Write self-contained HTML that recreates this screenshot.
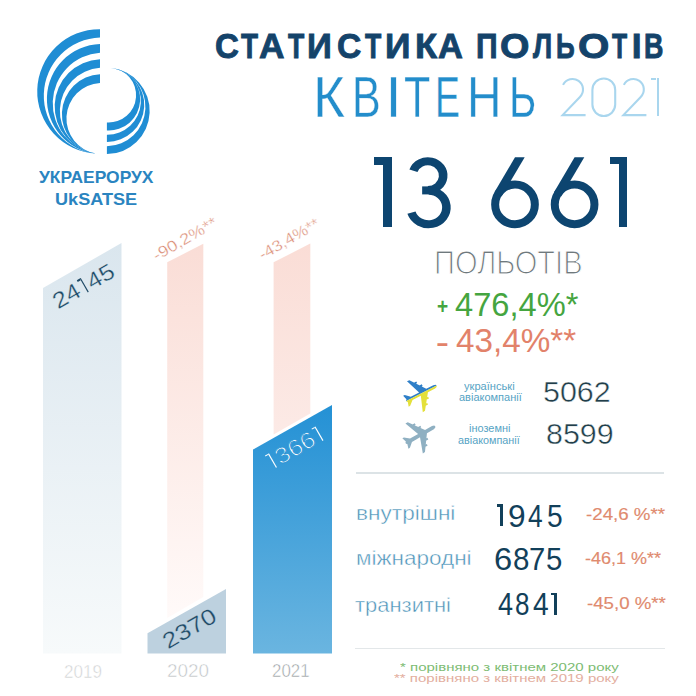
<!DOCTYPE html>
<html><head><meta charset="utf-8">
<style>
html,body{margin:0;padding:0;background:#fff;}
body{width:696px;height:696px;position:relative;overflow:hidden;font-family:"Liberation Sans",sans-serif;}
.t{position:absolute;white-space:nowrap;line-height:1;transform-origin:0 0;}
</style></head><body>

<!-- logo -->
<svg id="logo" style="position:absolute;left:0;top:0" width="200" height="160" viewBox="0 0 200 160">
<g fill="#1F8DD4">
<path d="M100,29.2 A62.25,62.25 0 0 0 96,153.6 A58.17,58.17 0 0 1 100,37.6 Z"/>
<path d="M100,44.1 A54.92,54.92 0 0 0 96,153.6 A50.79,50.79 0 0 1 100,52.7 Z"/>
<path d="M100,59.2 A47.42,47.42 0 0 0 96,153.6 A43.25,43.25 0 0 1 100,67.8 Z"/>
<path d="M100,74.3 A39.88,39.88 0 0 0 96,153.6 A35.64,35.64 0 0 1 100,82.9 Z"/>
<path d="M110.8,67.9 A31.31,31.31 0 0 1 106.9,130.4 L106.9,122.5 A27.37,27.37 0 0 0 110.8,67.9 Z"/>
<path d="M110.8,67.9 A37.09,37.09 0 0 1 106.9,141.9 L106.9,134.7 A33.49,33.49 0 0 0 110.8,67.9 Z"/>
<path d="M110.8,67.9 A43.21,43.21 0 0 1 106.9,154.1 L106.9,146.2 A39.29,39.29 0 0 0 110.8,67.9 Z"/>
</g>
</svg>
<div class="t" id="lg1" style="left:38.7px;top:168.91px;font-size:17.28px;font-weight:bold;color:#2A84C0;transform:scaleX(1.0085);">УКРАЕРОРУХ</div>
<div class="t" id="lg2" style="left:54.77px;top:192.08px;font-size:15.86px;font-weight:bold;color:#2A84C0;transform:scaleX(1.1419);">UkSATSE</div>

<!-- title -->
<div class="t" id="t0" style="left:214.59px;top:29.3px;font-size:35.6px;font-weight:bold;color:#14436A;-webkit-text-stroke:0.9px #14436A;transform:scaleX(0.9294);">С</div>
<div class="t" id="t1" style="left:240.93px;top:29.31px;font-size:35.6px;font-weight:bold;color:#14436A;-webkit-text-stroke:0.9px #14436A;transform:scaleX(0.7833);">Т</div>
<div class="t" id="t2" style="left:259.13px;top:29.01px;font-size:35.6px;font-weight:bold;color:#14436A;-webkit-text-stroke:0.9px #14436A;transform:scaleX(0.9925);">А</div>
<div class="t" id="t3" style="left:287.94px;top:29.01px;font-size:35.6px;font-weight:bold;color:#14436A;-webkit-text-stroke:0.9px #14436A;transform:scaleX(0.7497);">Т</div>
<div class="t" id="t4" style="left:306.86px;top:29.01px;font-size:35.6px;font-weight:bold;color:#14436A;-webkit-text-stroke:0.9px #14436A;transform:scaleX(0.9712);">И</div>
<div class="t" id="t5" style="left:337.07px;top:29.3px;font-size:35.6px;font-weight:bold;color:#14436A;-webkit-text-stroke:0.9px #14436A;transform:scaleX(0.9442);">С</div>
<div class="t" id="t6" style="left:364.94px;top:29.01px;font-size:35.6px;font-weight:bold;color:#14436A;-webkit-text-stroke:0.9px #14436A;transform:scaleX(0.7497);">Т</div>
<div class="t" id="t7" style="left:384.96px;top:29.01px;font-size:35.6px;font-weight:bold;color:#14436A;-webkit-text-stroke:0.9px #14436A;transform:scaleX(0.996);">И</div>
<div class="t" id="t8" style="left:414.72px;top:29.01px;font-size:35.6px;font-weight:bold;color:#14436A;-webkit-text-stroke:0.9px #14436A;transform:scaleX(1.0174);">К</div>
<div class="t" id="t9" style="left:437.81px;top:29.01px;font-size:35.6px;font-weight:bold;color:#14436A;-webkit-text-stroke:0.9px #14436A;transform:scaleX(0.9692);">А</div>
<div class="t" id="t10" style="left:476.3px;top:29.01px;font-size:35.6px;font-weight:bold;color:#14436A;-webkit-text-stroke:0.9px #14436A;transform:scaleX(0.8447);">П</div>
<div class="t" id="t11" style="left:499.82px;top:29.3px;font-size:35.6px;font-weight:bold;color:#14436A;-webkit-text-stroke:0.9px #14436A;transform:scaleX(1.0632);">О</div>
<div class="t" id="t12" style="left:532.55px;top:29.01px;font-size:35.6px;font-weight:bold;color:#14436A;-webkit-text-stroke:0.9px #14436A;transform:scaleX(0.769);">Л</div>
<div class="t" id="t13" style="left:556.48px;top:29.01px;font-size:35.6px;font-weight:bold;color:#14436A;-webkit-text-stroke:0.9px #14436A;transform:scaleX(0.7311);">Ь</div>
<div class="t" id="t14" style="left:578.07px;top:29.3px;font-size:35.6px;font-weight:bold;color:#14436A;-webkit-text-stroke:0.9px #14436A;transform:scaleX(1.1325);">О</div>
<div class="t" id="t15" style="left:612.31px;top:29.01px;font-size:35.6px;font-weight:bold;color:#14436A;-webkit-text-stroke:0.9px #14436A;transform:scaleX(0.6963);">Т</div>
<div class="t" id="t16" style="left:631.74px;top:29.01px;font-size:35.6px;font-weight:bold;color:#14436A;-webkit-text-stroke:0.9px #14436A;transform:scaleX(1);">І</div>
<div class="t" id="t17" style="left:644.28px;top:29.01px;font-size:35.6px;font-weight:bold;color:#14436A;-webkit-text-stroke:0.9px #14436A;transform:scaleX(0.7562);">В</div>
<div class="t" id="m0" style="left:312.76px;top:69.31px;font-size:57.8px;color:#238DCB;-webkit-text-stroke:0.4px #fff;transform:scaleX(0.9484);">К</div>
<div class="t" id="m1" style="left:351.83px;top:69.31px;font-size:57.8px;color:#238DCB;-webkit-text-stroke:0.4px #fff;transform:scaleX(0.7454);">В</div>
<div class="t" id="m2" style="left:385.45px;top:69.31px;font-size:57.8px;color:#238DCB;-webkit-text-stroke:0.4px #fff;transform:scaleX(1);">І</div>
<div class="t" id="m3" style="left:403.61px;top:69.31px;font-size:57.8px;color:#238DCB;-webkit-text-stroke:0.4px #fff;transform:scaleX(0.7448);">Т</div>
<div class="t" id="m4" style="left:434.72px;top:69.31px;font-size:57.8px;color:#238DCB;-webkit-text-stroke:0.4px #fff;transform:scaleX(0.6463);">Е</div>
<div class="t" id="m5" style="left:466.65px;top:68.61px;font-size:57.8px;color:#238DCB;-webkit-text-stroke:0.4px #fff;transform:scaleX(0.8258);">Н</div>
<div class="t" id="m6" style="left:508.68px;top:69.31px;font-size:57.8px;color:#238DCB;-webkit-text-stroke:0.4px #fff;transform:scaleX(0.7205);">Ь</div>
<svg id="yr0" style="position:absolute;left:0;top:0" width="696" height="200" viewBox="0 0 696 200"><g fill="none" stroke="#A9D6EE" stroke-width="2.1" stroke-linejoin="miter"><path d="M563.06,84.90 A10.5,10.5 0 1 1 579.92,96.92 L562.60,115.1 L585.60,115.1"/><path d="M623.86,84.90 A10.5,10.5 0 1 1 640.72,96.92 L623.40,115.1 L646.40,115.1"/><rect x="592.4" y="78.5" width="22.8" height="37.5" rx="11.4" ry="11.4"/></g></svg>
<div id="yr3" style="position:absolute;left:0;top:0;"><div style="position:absolute;left:656.5px;top:77.9px;width:2.30px;height:38.60px;background:#A9D6EE;"></div><div style="position:absolute;left:650.7px;top:77.9px;width:5.60px;height:2.20px;background:#A9D6EE;"></div></div>

<!-- big number -->
<div id="bg0" style="position:absolute;left:0;top:0;"><div style="position:absolute;left:383.3px;top:157.3px;width:8.60px;height:69.90px;background:#0D4570;"></div><div style="position:absolute;left:374.2px;top:157.3px;width:9.10px;height:7.50px;background:#0D4570;"></div></div>
<svg id="bg1" style="position:absolute;left:0;top:0" width="696" height="300" viewBox="0 0 696 300"><g fill="none" stroke="#0D4570" stroke-width="8" transform="translate(450.5,0) scale(1.07,1) translate(-450.5,0)"><path d="M415.86,170.75 A14.35,14.35 0 1 1 429.35,190"/><path d="M424,190.4 L430,190.4"/><path d="M429.95,190.7 A16.75,16.75 0 1 1 414.02,212.63"/></g></svg>
<svg id="bg2" style="position:absolute;left:0;top:0" width="696" height="300" viewBox="0 0 696 300"><circle cx="515.00" cy="204.4" r="19.85" fill="none" stroke="#0D4570" stroke-width="8"/><polygon points="515.00,157.3 524.70,157.3 501.55,196.47 494.40,192.2" fill="#0D4570"/></svg>
<svg id="bg3" style="position:absolute;left:0;top:0" width="696" height="300" viewBox="0 0 696 300"><circle cx="574.60" cy="204.4" r="19.85" fill="none" stroke="#0D4570" stroke-width="8"/><polygon points="574.60,157.3 584.30,157.3 561.15,196.47 554.00,192.2" fill="#0D4570"/></svg>
<div id="bg4" style="position:absolute;left:0;top:0;"><div style="position:absolute;left:618.9px;top:156.9px;width:8.30px;height:69.90px;background:#0D4570;"></div><div style="position:absolute;left:609.8px;top:156.9px;width:9.10px;height:6.90px;background:#0D4570;"></div></div>
<div class="t" id="flights" style="left:434.03px;top:246.8px;font-size:32.74px;color:#6F797D;-webkit-text-stroke:1.2px #fff;transform:scaleX(0.8884);">ПОЛЬОТІВ</div>
<div class="t" id="p1s" style="font-weight:bold;left:437.43px;top:295.5px;font-size:22px;color:#45A540;transform:scaleX(0.8667);">+</div>
<div class="t" id="pct1" style="left:455.31px;top:288px;font-size:33px;color:#45A540;transform:scaleX(0.9886);">476,4%*</div>
<div class="t" id="p2s" style="font-weight:bold;left:436.22px;top:331.82px;font-size:22px;color:#E2826A;transform:scaleX(1.7555);">-</div>
<div class="t" id="pct2" style="left:455.7px;top:323.55px;font-size:33px;color:#E2826A;transform:scaleX(1.0067);">43,4%**</div>

<!-- airlines -->
<svg id="planes" style="position:absolute;left:0;top:0" width="696" height="696" viewBox="0 0 696 696">
<defs>
<path id="pl" d="M14.50,0.00 L13.90,-1.20 L11.80,-1.90 L3.80,-1.90 L-7.30,-17.20 L-9.90,-17.40 L-4.20,-1.90 L-13.50,-1.90 L-18.20,-6.00 L-20.00,-6.10 L-18.60,-1.50 L-19.60,-0.50 L-19.60,0.00 L-19.60,0.50 L-18.60,1.50 L-20.00,6.10 L-18.20,6.00 L-13.50,1.90 L-4.20,1.90 L-9.90,17.40 L-7.30,17.20 L3.80,1.90 L11.80,1.90 L13.90,1.20 Z M1.90,-7.90 L-2.90,-7.90 L-2.90,-6.10 L1.90,-6.10 Z M1.90,6.10 L-2.90,6.10 L-2.90,7.90 L1.90,7.90 Z M-1.73,-12.90 L-6.53,-12.90 L-6.53,-11.10 L-1.73,-11.10 Z M-1.73,11.10 L-6.53,11.10 L-6.53,12.90 L-1.73,12.90 Z"/>
<clipPath id="topc"><rect x="-30" y="-30" width="60" height="30"/></clipPath>
<clipPath id="botc"><rect x="-30" y="0" width="60" height="30"/></clipPath>
</defs>
<g transform="translate(423.7,392.2) rotate(-27)">
<use href="#pl" fill="#2F7FC8" clip-path="url(#topc)"/>
<use href="#pl" fill="#E4E03A" clip-path="url(#botc)"/>
</g>
<g transform="translate(422.7,433.5) rotate(-30)">
<use href="#pl" fill="#8FB0C2"/>
</g>
</svg>
<div class="t" id="ua1" style="left:464.1px;top:381.63px;font-size:10.2px;color:#56A3C4;transform:scaleX(1.0899);">українські</div>
<div class="t" id="ua2" style="left:459.1px;top:393.35px;font-size:10.2px;color:#56A3C4;transform:scaleX(1.0782);">авіакомпанії</div>
<div class="t" id="fo1" style="left:469.31px;top:424.37px;font-size:10.2px;color:#56A3C4;transform:scaleX(1.0726);">іноземні</div>
<div class="t" id="fo2" style="left:457.8px;top:436.02px;font-size:10.2px;color:#56A3C4;transform:scaleX(1.0605);">авіакомпанії</div>
<div class="t" id="n5062" style="left:542.93px;top:377.61px;font-size:29px;color:#213E4A;-webkit-text-stroke:0.45px #fff;transform:scaleX(1.0487);">5062</div>
<div class="t" id="n8599" style="left:545.56px;top:420.42px;font-size:29px;color:#213E4A;-webkit-text-stroke:0.45px #fff;transform:scaleX(1.0479);">8599</div>

<div id="sep1" style="position:absolute;left:356px;top:472px;width:308px;height:1.5px;background:#DCE3E6;"></div>

<!-- table -->
<div class="t" id="r1l" style="left:355.76px;top:503.33px;font-size:20.8px;color:#4C93B8;-webkit-text-stroke:0.45px #fff;transform:scaleX(1.087);">внутрішні</div>
<div class="t" id="r2l" style="left:355.77px;top:547.93px;font-size:20.8px;color:#4C93B8;-webkit-text-stroke:0.45px #fff;transform:scaleX(1.0826);">міжнародні</div>
<div class="t" id="r3l" style="left:355.4px;top:594.88px;font-size:20.8px;color:#4C93B8;-webkit-text-stroke:0.45px #fff;transform:scaleX(1.0558);">транзитні</div>
<div id="r1n0" style="position:absolute;left:0;top:0;"><div style="position:absolute;left:500.1px;top:504.3px;width:2.70px;height:21.60px;background:#12405A;"></div><div style="position:absolute;left:496.8px;top:504.3px;width:3.30px;height:2.70px;background:#12405A;"></div></div>
<div class="t" id="r1n1" style="left:507.6px;top:499.53px;font-size:32px;color:#12405A;transform:scaleX(0.9892);">9</div>
<div class="t" id="r1n2" style="left:527.88px;top:499.53px;font-size:32px;color:#12405A;transform:scaleX(0.8223);">4</div>
<div class="t" id="r1n3" style="left:546.5px;top:499.53px;font-size:32px;color:#12405A;transform:scaleX(0.8809);">5</div>
<div class="t" id="r2n0" style="left:493.7px;top:542.71px;font-size:32px;color:#12405A;transform:scaleX(1.0223);">6</div>
<div class="t" id="r2n1" style="left:512.87px;top:542.71px;font-size:32px;color:#12405A;transform:scaleX(0.9229);">8</div>
<div class="t" id="r2n2" style="left:529.42px;top:542.71px;font-size:32px;color:#12405A;transform:scaleX(0.9128);">7</div>
<div class="t" id="r2n3" style="left:546.27px;top:542.71px;font-size:32px;color:#12405A;transform:scaleX(0.9182);">5</div>
<div class="t" id="r3n0" style="left:497.84px;top:588.02px;font-size:32px;color:#12405A;transform:scaleX(0.8461);">4</div>
<div class="t" id="r3n1" style="left:514.91px;top:588.02px;font-size:32px;color:#12405A;transform:scaleX(0.8125);">8</div>
<div class="t" id="r3n2" style="left:533px;top:588.02px;font-size:32px;color:#12405A;transform:scaleX(0.8789);">4</div>
<div id="r3n3" style="position:absolute;left:0;top:0;"><div style="position:absolute;left:554.0px;top:592.8px;width:2.70px;height:22.10px;background:#12405A;"></div><div style="position:absolute;left:550.7px;top:592.8px;width:3.30px;height:2.70px;background:#12405A;"></div></div>
<div class="t" id="r1p" style="left:586.2px;top:507.07px;font-size:15.9px;color:#E08A6E;-webkit-text-stroke:0.15px #E08A6E;transform:scaleX(1.1779);">-24,6 %**</div>
<div class="t" id="r2p" style="left:585.4px;top:551.07px;font-size:15.9px;color:#E08A6E;-webkit-text-stroke:0.15px #E08A6E;transform:scaleX(1.1326);">-46,1 %**</div>
<div class="t" id="r3p" style="left:587.4px;top:596.33px;font-size:15.9px;color:#E08A6E;-webkit-text-stroke:0.15px #E08A6E;transform:scaleX(1.1748);">-45,0 %**</div>

<div id="sep2" style="position:absolute;left:355px;top:647.5px;width:310px;height:1.5px;background:#E3E7E9;"></div>
<div class="t" id="fn1" style="left:399.5px;top:660.5px;font-size:11.6px;color:#7DBC73;transform:scaleX(1.2943);">* порівняно з квітнем 2020 року</div>
<div class="t" id="fn2" style="left:394px;top:671.71px;font-size:11.6px;color:#E3AE9E;transform:scaleX(1.2959);">** порівняно з квітнем 2019 року</div>

<!-- chart -->
<svg id="chart" style="position:absolute;left:0;top:0" width="696" height="696" viewBox="0 0 696 696">
<defs>
<linearGradient id="g19" x1="0" y1="0" x2="0" y2="1"><stop offset="0" stop-color="#DAE6EE"/><stop offset="1" stop-color="#F7FAFB"/></linearGradient>
<linearGradient id="gpk" x1="0" y1="0" x2="0" y2="1"><stop offset="0" stop-color="#FADDD6"/><stop offset="1" stop-color="#FFFAF9"/></linearGradient>
<linearGradient id="gpk2" x1="0" y1="0" x2="0" y2="1"><stop offset="0" stop-color="#FADDD6"/><stop offset="1" stop-color="#FCEAE6"/></linearGradient>
<linearGradient id="gbl" x1="0" y1="0" x2="0" y2="1"><stop offset="0" stop-color="#2491D5"/><stop offset="1" stop-color="#6AB5E0"/></linearGradient>
</defs>
<polygon points="43,288 121.5,243 121.5,653.5 43,653.5" fill="url(#g19)"/>
<polygon points="167.2,262.3 203.3,243.8 203.3,597 167.2,618" fill="url(#gpk)"/>
<polygon points="147.5,633.2 226,588.9 226,653.5 147.5,653.5" fill="#BDD1DF"/>
<polygon points="273.6,262.3 310.3,243.6 310.3,413.5 273.6,434.5" fill="url(#gpk2)"/>
<polygon points="253,449.6 332,405 332,653.5 253,653.5" fill="url(#gbl)"/>
</svg>
<div class="t" id="c1" style="left:49px;top:293.5px;font-size:22.3px;color:#1F4A66;-webkit-text-stroke:0.3px #DDE8EF;transform:rotate(-30deg) scaleX(1.1455);">24<span style="display:inline-block;position:relative;width:0.42em;height:0.709em;"><span style="position:absolute;left:0.22em;top:0;width:0.064em;height:100%;background:currentColor;"></span><span style="position:absolute;left:0.10em;top:0;width:0.12em;height:0.065em;background:currentColor;"></span></span>45</div>
<div class="t" id="c2" style="left:158.75px;top:633.5px;font-size:22.21px;color:#1F4A66;-webkit-text-stroke:0.3px #BDD1DF;transform:rotate(-30deg) scaleX(1.1792);">2370</div>
<div class="t" id="c3" style="left:262px;top:455px;font-size:22.5px;color:#fff;-webkit-text-stroke:0.9px #2C95D5;transform:rotate(-30deg) scaleX(1.1425);"><span style="display:inline-block;position:relative;width:0.42em;height:0.709em;"><span style="position:absolute;left:0.22em;top:0;width:0.052em;height:100%;background:currentColor;"></span><span style="position:absolute;left:0.10em;top:0;width:0.12em;height:0.055em;background:currentColor;"></span></span>366<span style="display:inline-block;position:relative;width:0.42em;height:0.709em;"><span style="position:absolute;left:0.22em;top:0;width:0.052em;height:100%;background:currentColor;"></span><span style="position:absolute;left:0.10em;top:0;width:0.12em;height:0.055em;background:currentColor;"></span></span></div>
<div class="t" id="c4" style="left:150.25px;top:249.5px;font-size:15.5px;color:#D8856C;-webkit-text-stroke:0.35px #fff;transform:rotate(-30deg) scaleX(1.1676);">-90,2%**</div>
<div class="t" id="c5" style="left:256.25px;top:249px;font-size:15.5px;color:#D8856C;-webkit-text-stroke:0.35px #fff;transform:rotate(-30deg) scaleX(1.1017);">-43,4%**</div>
<div class="t" id="y19" style="left:64.05px;top:662.51px;font-size:18px;color:#D0D2D3;-webkit-text-stroke:0.5px #fff;transform:scaleX(0.9472);">2019</div>
<div class="t" id="y20" style="left:167.46px;top:661.91px;font-size:18px;color:#C0C4C6;-webkit-text-stroke:0.5px #fff;transform:scaleX(1.0467);">2020</div>
<div class="t" id="y21" style="left:271.94px;top:661.91px;font-size:18px;color:#9A9FA3;-webkit-text-stroke:0.5px #fff;transform:scaleX(0.9377);">2021</div>

</body></html>
